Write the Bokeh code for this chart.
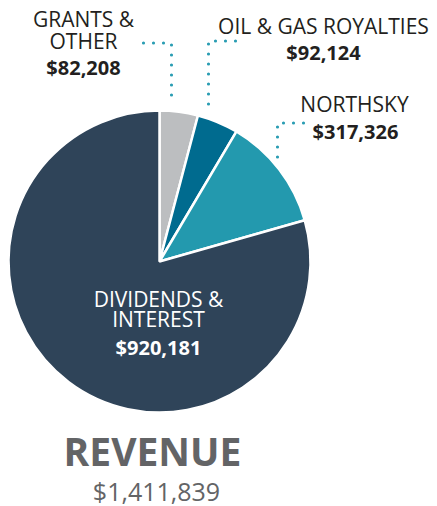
import numpy as np
from bokeh.plotting import figure
from bokeh.models import Range1d, ColumnDataSource
from bokeh.core.properties import value
from bokeh.embed import file_html
from bokeh.resources import INLINE

# ---- data ----
categories = ["GRANTS & OTHER", "OIL & GAS ROYALTIES", "NORTHSKY", "DIVIDENDS & INTEREST"]
amounts = [82208, 92124, 317326, 920181]
amount_labels = ["$82,208", "$92,124", "$317,326", "$920,181"]
# slice shares as drawn in the reference picture (percent of the circle)
drawn_share_pct = [4.1, 4.4, 12.1, 79.4]
slice_colors = ["#bcbec0", "#006b8f", "#2399ae", "#2f4459"]
title_text = "REVENUE"
total_label = "$1,411,839"

W, H = 437, 506
p = figure(width=W, height=H, output_backend="svg", toolbar_location=None,
           x_range=Range1d(0, W), y_range=Range1d(0, H), min_border=0)
p.axis.visible = False
p.grid.visible = False
p.outline_line_color = None
p.background_fill_color = None
p.border_fill_color = None

def Y(py):  # page pixel y -> data y
    return H - py

cx, cy, r = 159, Y(261), 151
shares = np.array(drawn_share_pct) / np.sum(drawn_share_pct)
cum = np.concatenate([[0], np.cumsum(shares)])
start = np.pi / 2 - cum[:-1] * 2 * np.pi
end = np.pi / 2 - cum[1:] * 2 * np.pi
src = ColumnDataSource(dict(start=start, end=end, color=slice_colors, cat=categories))
p.wedge(x=cx, y=cy, radius=r, start_angle="start", end_angle="end", direction="clock",
        fill_color="color", line_color="white", line_width=2.5, source=src)

# leader dots
dot_color = "#2a9db3"
leaders_x = [[143, 171, 171], [235, 208, 208], [303, 277, 277]]
leaders_y = [[Y(42.5), Y(42.5), Y(102)], [Y(40.5), Y(40.5), Y(112)], [Y(122.5), Y(122.5), Y(164)]]
p.multi_line(xs=leaders_x, ys=leaders_y, line_color=dot_color, line_width=3.2,
             line_dash="0 10", line_cap="round", line_join="round")

font = value("Open Sans")
dark = "#231f20"

def txt(x, py, s, size, color=dark, style="normal"):
    # py is the visual baseline in page pixels; correct for renderer offset
    p.text(x=[x], y=[Y(py - 0.4 * size)], text=[s], text_font=font,
           text_font_size=f"{size}px", text_color=color, text_align="center",
           text_baseline="alphabetic", text_font_style=style)

REG, BOLD = 21, 20
# grants
txt(83, 27, "GRANTS &", REG)
txt(83, 49, "OTHER", REG)
txt(83, 75, amount_labels[0], BOLD, style="bold")
# oil & gas
txt(323, 34, "OIL & GAS ROYALTIES", REG)
txt(323, 60, amount_labels[1], BOLD, style="bold")
# northsky
txt(354, 112, "NORTHSKY", REG)
txt(355, 139, amount_labels[2], BOLD, style="bold")
# dividends
txt(158, 307, "DIVIDENDS &", REG, color="white")
txt(158, 327, "INTEREST", REG, color="white")
txt(158, 355, amount_labels[3], BOLD, color="white", style="bold")
# title
txt(152, 466, title_text, 39, color="#636466", style="bold")
txt(156, 500, total_label, 25, color="#636466")

open("out.html", "w").write(file_html(p, INLINE))
